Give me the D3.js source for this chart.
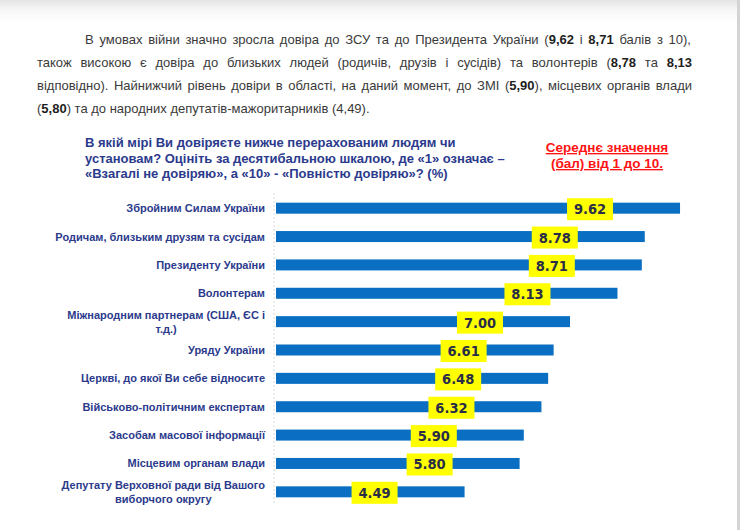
<!DOCTYPE html>
<html>
<head>
<meta charset="utf-8">
<script src="https://cdn.jsdelivr.net/npm/d3@7"></script>
<style>
  html, body { margin: 0; padding: 0; background: #fff; }
  #page { position: relative; width: 740px; height: 530px; overflow: hidden;
          background: linear-gradient(#e4e4e4 0px, #f7f7f7 10px, #fff 22px); }
  #edge { position: absolute; right: 0; top: 0; width: 3px; height: 530px; background: #d4d4d4; }
  .para { position: absolute; left: 37px; width: 655px; font-family: "Liberation Sans", Arial, sans-serif;
          font-size: 13px; color: #3a3a3a; white-space: nowrap; line-height: 18px; }
  .para.j { text-align: justify; text-align-last: justify; }
  .para b { color: #1e1e1e; }
  svg { position: absolute; left: 0; top: 0; }
</style>
</head>
<body>
<div id="page">
  <div id="edge"></div>
  <div id="text"></div>
  <svg id="chart" width="740" height="530"></svg>
</div>
<script>
// paragraph above the chart, one entry per printed line
const paraLines = [
  'В умовах війни значно зросла довіра до ЗСУ та до Президента України (<b>9,62</b> і <b>8,71</b> балів з 10),',
  'також високою є довіра до близьких людей (родичів, друзів і сусідів) та волонтерів (<b>8,78</b> та <b>8,13</b>',
  'відповідно). Найнижчий рівень довіри в області, на даний момент, до ЗМІ (<b>5,90</b>), місцевих органів влади',
  '(<b>5,80</b>) та до народних депутатів-мажоритарників (4,49).'
];
const questionLines = [
  "В якій мірі Ви довіряєте нижче перерахованим людям чи",
  "установам? Оцініть за десятибальною шкалою, де «1» означає –",
  "«Взагалі не довіряю», а «10» - «Повністю довіряю»? (%)"
];
const noteLines = ["Середнє значення", "(бал) від 1 до 10."];

const categories = [
  ["Збройним Силам України"],
  ["Родичам, близьким друзям та сусідам"],
  ["Президенту України"],
  ["Волонтерам"],
  ["Міжнародним партнерам (США, ЄС і", "т.д.)"],
  ["Уряду України"],
  ["Церкві, до якої Ви себе відносите"],
  ["Військово-політичним експертам"],
  ["Засобам масової інформації"],
  ["Місцевим органам влади"],
  ["Депутату Верховної ради від Вашого", "виборчого округу"]
];
const values = [9.62, 8.78, 8.71, 8.13, 7.00, 6.61, 6.48, 6.32, 5.90, 5.80, 4.49];

// paragraph
d3.select("#text").selectAll("div").data(paraLines).join("div")
  .attr("class", (d, i) => i < paraLines.length - 1 ? "para j" : "para")
  .style("top", (d, i) => (31 + i * 23) + "px")
  .style("left", (d, i) => i === 0 ? "85px" : "37px")
  .style("width", (d, i) => i === 0 ? "606px" : "655px")
  .html(d => d);

const svg = d3.select("#chart");
const navy = "#2b3a8c";

svg.append("g").selectAll("text").data(questionLines).join("text")
  .attr("x", 85).attr("y", (d, i) => 147 + i * 15.5)
  .attr("font-family", "Liberation Sans, Arial, sans-serif")
  .attr("font-weight", "bold").attr("font-size", 13)
  .attr("fill", navy).text(d => d);

svg.append("g").selectAll("text").data(noteLines).join("text")
  .attr("x", 607).attr("y", (d, i) => 152 + i * 16)
  .attr("text-anchor", "middle")
  .attr("font-family", "Liberation Sans, Arial, sans-serif")
  .attr("font-weight", "bold").attr("font-size", 13.5)
  .attr("text-decoration", "underline")
  .attr("fill", "#ff1414").text(d => d);

const x = d3.scaleLinear().domain([0, 10]).range([276, 696]);
const y = d3.scaleBand().domain(d3.range(values.length)).range([194, 506]);
const cy = i => y(i) + y.bandwidth() / 2;

// faint category axis
svg.append("line")
  .attr("x1", 274).attr("x2", 274).attr("y1", 193).attr("y2", 503)
  .attr("stroke", "#dcdcdc").attr("stroke-dasharray", "2,2");

const rows = svg.append("g").selectAll("g").data(values).join("g");

rows.append("rect")
  .attr("x", x(0)).attr("y", (d, i) => cy(i) - 5.5)
  .attr("width", d => x(d) - x(0)).attr("height", 11)
  .attr("fill", "#0a6fc2");

rows.append("rect")
  .attr("x", d => x(d) - 90 - 23).attr("y", (d, i) => cy(i) - 10)
  .attr("width", 46).attr("height", 22)
  .attr("fill", "#ffff00");

rows.append("text")
  .attr("x", d => x(d) - 90).attr("y", (d, i) => cy(i) + 6)
  .attr("text-anchor", "middle")
  .attr("font-family", "DejaVu Sans Condensed, Liberation Sans, sans-serif")
  .attr("font-weight", "bold").attr("font-size", 14.5)
  .attr("fill", "#2a2d48")
  .text(d => d.toFixed(2));

// category labels, second line centred under the first
rows.each(function (d, i) {
  const lines = categories[i];
  const g = d3.select(this);
  const t = g.append("text")
    .attr("font-family", "Liberation Sans, Arial, sans-serif")
    .attr("font-weight", "bold").attr("font-size", 11)
    .attr("fill", navy);
  const first = t.append("tspan").attr("x", 265).attr("text-anchor", "end")
    .attr("y", lines.length > 1 ? cy(i) - 2.5 : cy(i) + 4).text(lines[0]);
  if (lines.length > 1) {
    const w = first.node().getComputedTextLength();
    t.append("tspan").attr("x", 265 - w / 2).attr("text-anchor", "middle")
      .attr("y", cy(i) + 11).text(lines[1]);
  }
});
</script>
</body>
</html>
